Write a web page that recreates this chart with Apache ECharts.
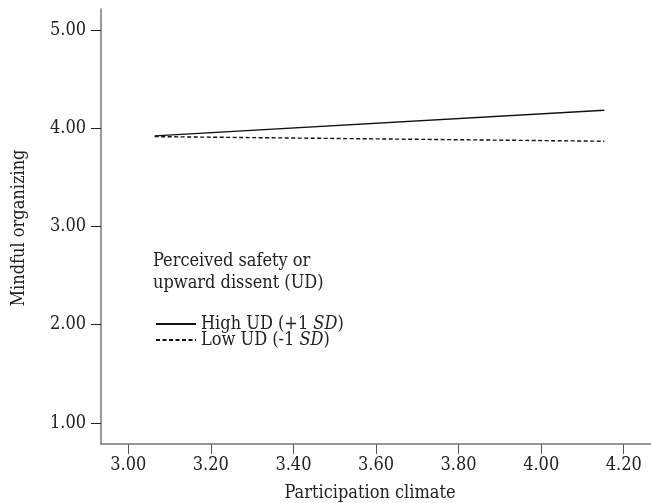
<!DOCTYPE html>
<html><head><meta charset="utf-8">
<script src="https://cdn.jsdelivr.net/npm/echarts@6/dist/echarts.min.js"></script>
<style>html,body{margin:0;padding:0;background:#fff}#c{width:651px;height:503px}</style>
</head><body><div id="c"></div>
<script>
const xTicks = [3.00, 3.20, 3.40, 3.60, 3.80, 4.00, 4.20];
const yTicks = [1.00, 2.00, 3.00, 4.00, 5.00];
const xPoints = [3.064, 4.153];
const highUD = [3.923, 4.183];
const lowUD = [3.915, 3.868];
const seriesNames = ['High UD (+1 SD)', 'Low UD (-1 SD)'];
const FONT = '"DejaVu Serif Condensed", "DejaVu Serif"';
const FS = 18;

const chart = echarts.init(document.getElementById('c'), null, {renderer: 'canvas'});
chart.setOption({
  animation: false,
  grid: {left: 101, right: 0, top: 9, bottom: 59},
  xAxis: {
    type: 'value', min: 2.934, max: 4.266,
    splitLine: {show: false},
    axisLine: {lineStyle: {color: '#777', width: 1.5}},
    axisTick: {show: true, customValues: xTicks, length: 10, lineStyle: {color: '#555'}},
    axisLabel: {customValues: xTicks, formatter: v => v.toFixed(2), color: '#222', fontFamily: FONT, fontSize: FS, margin: 12}
  },
  yAxis: {
    type: 'value', min: 0.786, max: 5.214,
    splitLine: {show: false},
    axisLine: {show: true, lineStyle: {color: '#777', width: 1.5}},
    axisTick: {show: true, customValues: yTicks, length: 10, lineStyle: {color: '#222'}},
    axisLabel: {customValues: yTicks, formatter: v => v.toFixed(2), color: '#222', fontFamily: FONT, fontSize: FS, margin: 15}
  },
  legend: {
    orient: 'vertical', left: 150, top: 310, itemWidth: 40, itemHeight: 10, itemGap: -2,
    data: seriesNames,
    itemStyle: {opacity: 0},
    formatter: name => {
      const i = name.indexOf('SD');
      return '{a|' + name.slice(0, i) + '}{i|SD}{a|)}';
    },
    textStyle: {
      color: '#222', fontFamily: FONT, fontSize: FS, lineHeight: 15,
      rich: {a: {fontFamily: FONT, fontSize: FS, color: '#222', lineHeight: 15}, i: {fontFamily: FONT, fontSize: FS, fontStyle: 'italic', color: '#222', lineHeight: 15}}
    }
  },
  graphic: [
    {type: 'text', left: 153, top: 250, style: {text: 'Perceived safety or\nupward dissent (UD)', fontFamily: FONT, fontSize: FS, fill: '#222', lineHeight: 22}},
    {type: 'text', x: 19, y: 228, rotation: Math.PI/2, style: {text: 'Mindful organizing', fontFamily: FONT, fontSize: FS, fill: '#222', align: 'center', verticalAlign: 'middle'}},
    {type: 'text', x: 370, y: 493, style: {text: 'Participation climate', fontFamily: FONT, fontSize: FS, fill: '#222', align: 'center', verticalAlign: 'middle'}}
  ],
  series: [
    {name: seriesNames[0], type: 'line', data: xPoints.map((x,i)=>[x, highUD[i]]), symbol: 'none',
     lineStyle: {color: '#111', width: 1.4, type: 'solid'}, itemStyle: {color: '#111'}},
    {name: seriesNames[1], type: 'line', data: xPoints.map((x,i)=>[x, lowUD[i]]), symbol: 'none',
     lineStyle: {color: '#111', width: 1.4, type: [4,2.5]}, itemStyle: {color: '#111'}}
  ]
});
</script></body></html>
